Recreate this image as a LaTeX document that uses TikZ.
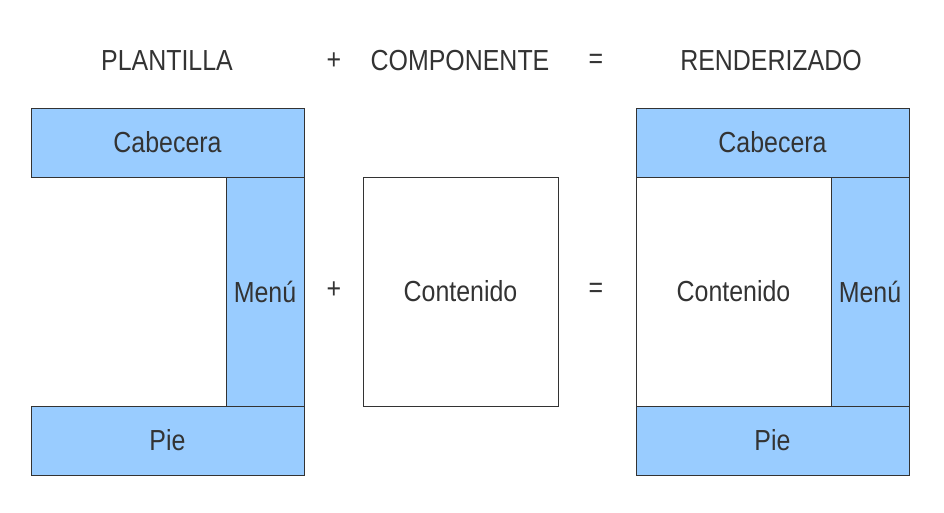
\documentclass[tikz,border=0pt]{standalone}
\usepackage{fontspec}
\setmainfont{Liberation Sans}[FakeStretch=0.86]
\usetikzlibrary{positioning}
\definecolor{bluebox}{HTML}{99CCFF}
\definecolor{ink}{HTML}{333333}

\begin{document}
\begin{tikzpicture}[x=1pt, y=-1pt,
    box/.style={draw=ink, line width=0.9pt, inner sep=0pt, text=ink, font=\fontsize{29}{32}\selectfont},
    part/.style={box, fill=bluebox},
    title/.style={text=ink, inner sep=0pt, font=\fontsize{29}{32}\selectfont}]
    \useasboundingbox (0,0) rectangle (944,513);
    % titles
    \node[title] (tplant) at (167,61) {PLANTILLA};
    \node[title] (tplus) at (334,61) {+};
    \node[title] (tcomp) at (460,61) {COMPONENTE};
    \node[title] (teq) at (596,61) {=};
    \node[title] (trend) at (771,61) {RENDERIZADO};
    % plantilla
    \node[part, minimum width=273pt, minimum height=69pt] (cab1) at (167.5,142.5) {Cabecera};
    \node[part, minimum width=78pt, minimum height=229pt] (menu1) at (265,291.5) {Menú};
    \node[part, minimum width=273pt, minimum height=69pt] (pie1) at (167.5,440.5) {Pie};
    % componente
    \node[title] (plus) at (334,290) {+};
    \node[box, minimum width=195pt, minimum height=229pt] (cont) at (460.5,291.5) {Contenido};
    \node[title] (eq) at (596,290) {=};
    % renderizado
    \node[part, minimum width=273pt, minimum height=69pt] (cab2) at (772.5,142.5) {Cabecera};
    \node[box, fill=white, minimum width=195pt, minimum height=229pt] (cont2) at (733.5,291.5) {Contenido};
    \node[part, minimum width=78pt, minimum height=229pt] (menu2) at (870,291.5) {Menú};
    \node[part, minimum width=273pt, minimum height=69pt] (pie2) at (772.5,440.5) {Pie};
\end{tikzpicture}
\end{document}
